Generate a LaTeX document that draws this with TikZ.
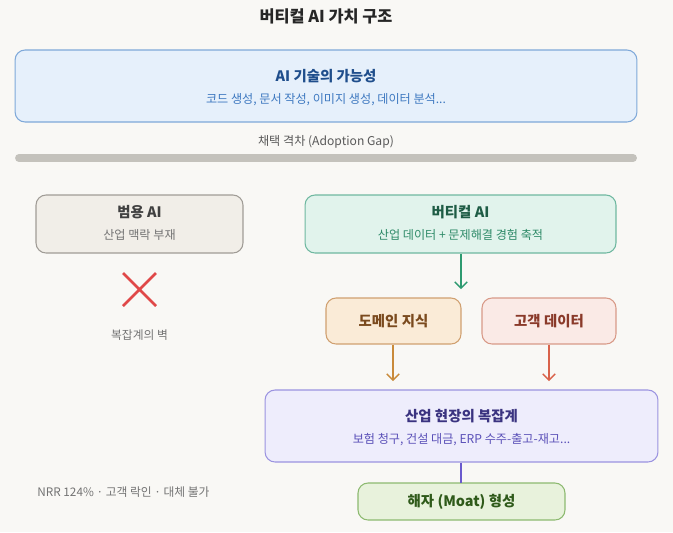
\documentclass[tikz,border=0pt]{standalone}
\usepackage{fontspec}
\setmainfont{Noto Sans CJK KR}
\usetikzlibrary{arrows.meta,positioning}
\definecolor{paper}{HTML}{F9F8F5}
\definecolor{capfill}{HTML}{E6F0FB}
\definecolor{capline}{HTML}{7FA9D9}
\definecolor{capdark}{HTML}{1F4E8C}
\definecolor{capsub}{HTML}{3D78C0}
\definecolor{genfill}{HTML}{F1EEE8}
\definecolor{genline}{HTML}{A09C96}
\definecolor{vertfill}{HTML}{E1F3EC}
\definecolor{vertline}{HTML}{6FB8A0}
\definecolor{vertdark}{HTML}{1E5C45}
\definecolor{vertsub}{HTML}{2E8A68}
\definecolor{domfill}{HTML}{FAEBD7}
\definecolor{domline}{HTML}{D0A070}
\definecolor{domdark}{HTML}{7A4A1E}
\definecolor{custfill}{HTML}{FAEAE6}
\definecolor{custline}{HTML}{D89A88}
\definecolor{custdark}{HTML}{8A3A2A}
\definecolor{cplxfill}{HTML}{EEEDFC}
\definecolor{cplxline}{HTML}{9B93E0}
\definecolor{cplxdark}{HTML}{3A3380}
\definecolor{cplxsub}{HTML}{5A50B8}
\definecolor{moatfill}{HTML}{E8F2DC}
\definecolor{moatline}{HTML}{8DBA70}
\definecolor{moatdark}{HTML}{2F5A1A}
\tikzset{
  box/.style={rectangle,rounded corners=0.2cm,line width=0.6pt,inner sep=0pt},
  ttl/.style={font=\fontsize{8.2}{10}\selectfont\bfseries,inner sep=0pt},
  sub/.style={font=\fontsize{6.9}{8}\selectfont,inner sep=0pt},
  note/.style={font=\fontsize{6.7}{8}\selectfont,text=black!55,inner sep=0pt},
  flow/.style={line width=0.8pt,-{Straight Barb[length=3.5pt,width=7pt]}}
}

\begin{document}
\begin{tikzpicture}[x=0.02cm,y=-0.02cm]
    % canvas
    \fill[paper] (0,0) rectangle (673,532);
    \useasboundingbox (0,0) rectangle (673,532);

    % title
    \node[font=\fontsize{9.3}{11}\selectfont\bfseries,text=black!85] (title) at (326,16) {버티컬 AI 가치 구조};

    % AI capability
    \node[box,fill=capfill,draw=capline,minimum width=12.44cm,minimum height=1.44cm] (cap) at (326,86) {};
    \node[ttl,text=capdark] (capT) at (326,76) {AI 기술의 가능성};
    \node[sub,text=capsub] (capS) at (326,100) {코드 생성, 문서 작성, 이미지 생성, 데이터 분석...};

    % adoption gap
    \node[sub,text=black!65] (gap) at (326,142) {채택 격차 (Adoption Gap)};
    \draw[line width=4.5pt,line cap=round,color={rgb,255:red,196;green,194;blue,188}] (19,158) -- (633,158);

    % generic AI
    \node[box,fill=genfill,draw=genline,minimum width=4.14cm,minimum height=1.16cm] (gen) at (139.5,224) {};
    \node[ttl,text=black!75] (genT) at (139.5,212) {범용 AI};
    \node[sub,text=black!55] (genS) at (139.5,235) {산업 맥락 부재};
    \draw[line width=1.5pt,color={rgb,255:red,224;green,72;blue,72}]
        (123,273) -- (156,306) (156,273) -- (123,306);
    \node[note] (wall) at (139.5,335) {복잡계의 벽};

    % vertical AI
    \node[box,fill=vertfill,draw=vertline,minimum width=6.22cm,minimum height=1.16cm] (vert) at (460.5,224) {};
    \node[ttl,text=vertdark] (vertT) at (460.5,212) {버티컬 AI};
    \node[sub,text=vertsub] (vertS) at (460.5,235) {산업 데이터 + 문제해결 경험 축적};

    % domain / customer
    \node[box,fill=domfill,draw=domline,minimum width=2.7cm,minimum height=0.92cm] (dom) at (393.5,321) {};
    \node[ttl,text=domdark] (domT) at (dom.center) {도메인 지식};
    \node[box,fill=custfill,draw=custline,minimum width=2.68cm,minimum height=0.92cm] (cust) at (549,321) {};
    \node[ttl,text=custdark] (custT) at (cust.center) {고객 데이터};

    % complexity
    \node[box,fill=cplxfill,draw=cplxline,minimum width=7.86cm,minimum height=1.44cm] (cplx) at (461.5,426) {};
    \node[ttl,text=cplxdark] (cplxT) at (461.5,416) {산업 현장의 복잡계};
    \node[sub,text=cplxsub] (cplxS) at (461.5,440) {보험 청구, 건설 대금, ERP 수주-출고-재고...};

    % moat
    \node[box,fill=moatfill,draw=moatline,minimum width=4.14cm,minimum height=0.74cm] (moat) at (461.5,501.5) {};
    \node[ttl,text=moatdark] (moatT) at (moat.center) {해자 (Moat) 형성};
    \node[note,anchor=west] (nrr) at (37,492) {NRR 124\% · 고객 락인 · 대체 불가};

    % connectors
    \coordinate (vertEnd) at (461,289);
    \coordinate (domEnd) at (393,381);
    \coordinate (custEnd) at (549,381);
    \coordinate (moatTop) at (461,483);
    \draw[flow,color={rgb,255:red,46;green,154;blue,112}] (vert.south -| vertEnd) -- (vertEnd);
    \draw[flow,color={rgb,255:red,201;green,138;blue,58}] (dom.south -| domEnd) -- (domEnd);
    \draw[flow,color={rgb,255:red,217;green,98;blue,74}] (cust.south) -- (custEnd);
    \draw[line width=0.8pt,color={rgb,255:red,106;green,90;blue,205}] (cplx.south -| moatTop) -- (moatTop);
\end{tikzpicture}
\end{document}
